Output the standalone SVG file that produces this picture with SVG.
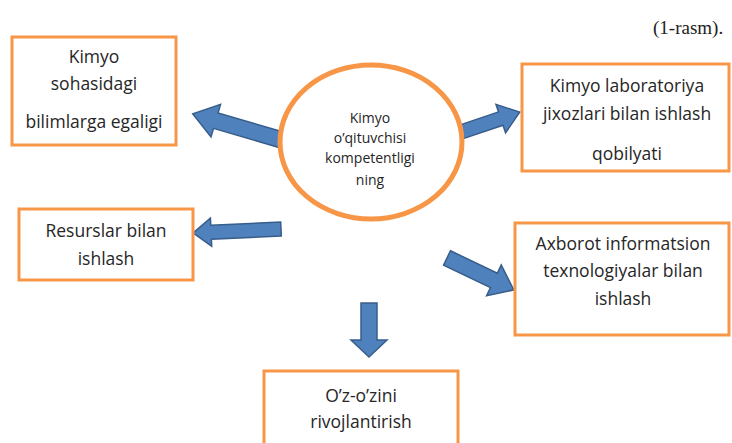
<svg xmlns="http://www.w3.org/2000/svg" width="732" height="443" viewBox="0 0 732 443">
<style>
.box{fill:#fff;stroke:#F79646;stroke-width:3}
.arr{fill:#4F81BD;stroke:#385D8A;stroke-width:1.5;stroke-linejoin:miter}
.t{font-family:"Open Sans","Liberation Sans",sans-serif;font-size:17.5px;fill:#262626;text-anchor:middle}
.c{font-family:"Open Sans","Liberation Sans",sans-serif;font-size:14px;fill:#262626;text-anchor:middle}
.cap{font-family:"Liberation Serif",serif;font-size:19px;fill:#222}
</style>
<rect width="732" height="443" fill="#fff"/>
<text class="cap" x="653" y="34">(1-rasm).</text>
<g id="connectors">
<path class="arr" d="M0,-8 L69,-8 L69,-17 L93,0 L69,17 L69,8 L0,8 Z" transform="translate(282,140) rotate(196.3)"/>
<path class="arr" d="M0,-7 L42,-7 L42,-15 L62,0 L42,15 L42,7 L0,7 Z" transform="translate(461,132) rotate(-18.7)"/>
<path class="arr" d="M0,-7 L70,-7 L70,-14 L88,0 L70,14 L70,7 L0,7 Z" transform="translate(281,229) rotate(177.4)"/>
<path class="arr" d="M0,-8 L52,-8 L52,-17 L74,0 L52,17 L52,8 L0,8 Z" transform="translate(447,258) rotate(25.5)"/>
<path class="arr" d="M0,-8 L37,-8 L37,-18 L54,0 L37,18 L37,8 L0,8 Z" transform="translate(369,303) rotate(90)"/>
</g>
<g id="center">
<ellipse cx="371" cy="142" rx="91" ry="77" fill="#fff" stroke="#F79646" stroke-width="5"/>
<text class="c" x="370" y="123">Kimyo</text>
<text class="c" x="370" y="143">o’qituvchisi</text>
<text class="c" x="370" y="163">kompetentligi</text>
<text class="c" x="370" y="185">ning</text>
</g>
<g id="node1">
<rect class="box" x="12" y="37" width="164" height="108"/>
<text class="t" x="94" y="63">Kimyo</text>
<text class="t" x="94" y="90">sohasidagi</text>
<text class="t" x="94" y="128">bilimlarga egaligi</text>
</g>
<g id="node2">
<rect class="box" x="522" y="64" width="207" height="107"/>
<text class="t" x="627" y="92">Kimyo laboratoriya</text>
<text class="t" x="627" y="120">jixozlari bilan ishlash</text>
<text class="t" x="627" y="160">qobilyati</text>
</g>
<g id="node3">
<rect class="box" x="19" y="209" width="174" height="71"/>
<text class="t" x="106" y="237">Resurslar bilan</text>
<text class="t" x="106" y="265">ishlash</text>
</g>
<g id="node4">
<rect class="box" x="515" y="223" width="214" height="112"/>
<text class="t" x="623" y="250">Axborot informatsion</text>
<text class="t" x="623" y="277">texnologiyalar bilan</text>
<text class="t" x="623" y="305">ishlash</text>
</g>
<g id="node5">
<rect class="box" x="264" y="371" width="194" height="80"/>
<text class="t" x="361" y="402">O’z-o’zini</text>
<text class="t" x="361" y="428">rivojlantirish</text>
</g>
</svg>
